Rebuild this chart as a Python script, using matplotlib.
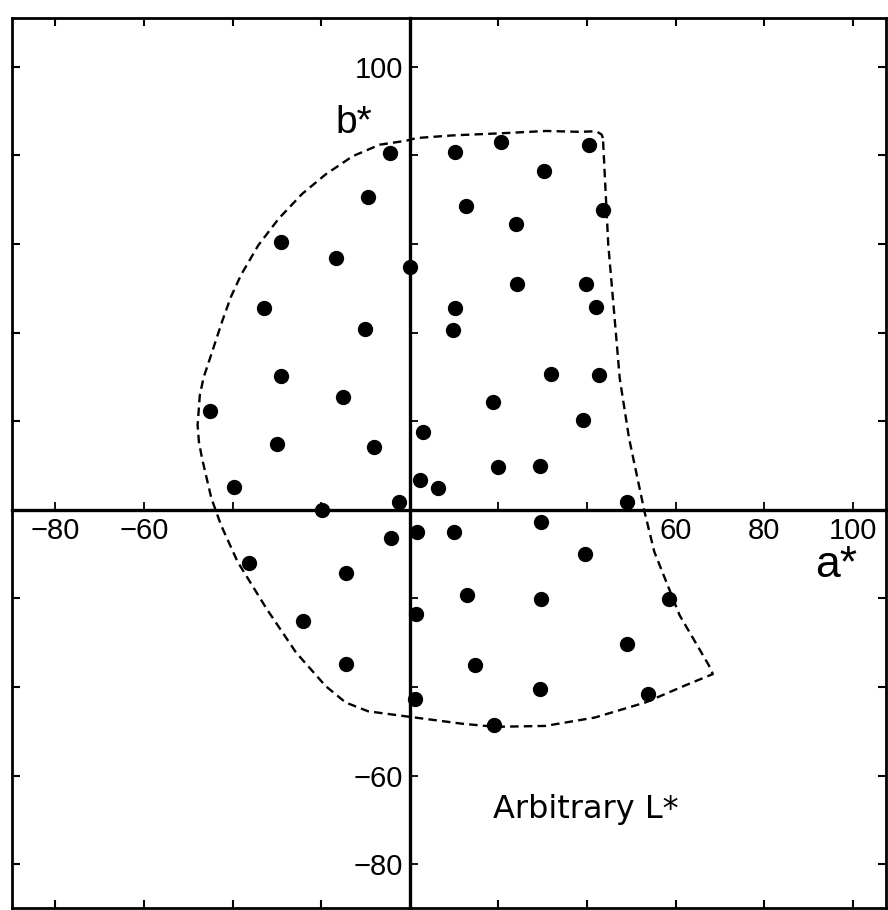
import matplotlib
matplotlib.use('Agg')
import matplotlib.pyplot as plt

# sample colours (a*, b*)
a_star = [-4.4, -9.5, -29.1, -16.7, 0.0, -32.8, -10.0, -29.1, -15.0, -45.0,
          -29.9, -8.0, -39.6, -2.4, -19.8,
          10.1, 20.5, 40.4, 30.2, 12.8, 43.6, 24.0, 24.3, 39.8, 42.0,
          10.1, 9.7, 31.9, 42.7, 18.7, 39.0, 3.0, 19.8, 29.4, 2.4, 6.4, 49.0,
          1.6, 10.0, -4.3, -36.4, -14.4, 12.9, 1.4, -24.0, -14.4, 1.1,
          29.6, 39.6, 29.6, 58.6, 49.1, 14.8, 29.4, 53.7, 19.0]
b_star = [80.5, 70.6, 60.5, 56.8, 54.7, 45.6, 40.7, 30.3, 25.4, 22.2,
          14.9, 14.2, 5.2, 1.8, 0.0,
          80.8, 82.9, 82.3, 76.4, 68.6, 67.6, 64.4, 50.9, 50.9, 45.7,
          45.6, 40.6, 30.6, 30.5, 24.4, 20.2, 17.5, 9.7, 9.9, 6.7, 4.8, 1.8,
          -5.0, -5.1, -6.4, -12.1, -14.2, -19.2, -23.6, -25.1, -34.9, -42.7,
          -2.7, -10.1, -20.1, -20.2, -30.3, -35.1, -40.5, -41.5, -48.6]

# dashed gamut boundary
edge_a = [43.6, 43.3, 42.3, 40.9, 38.4, 30.8, 21.1, 9.7, 1.5, -0.8, -6.8,
          -12.9, -19.0, -24.3, -29.6, -34.2, -38.1, -40.4, -42.3, -45.1,
          -46.5, -47.4, -47.9, -47.6, -46.9, -44.8, -42.6, -38.9, -32.3,
          -25.7, -19.0, -14.5, -9.4, -0.4, 11.8, 19.3, 30.6, 41.8, 53.2,
          62.3, 68.4, 67.5, 60.9, 55.2, 53.0, 49.5, 47.4, 46.1, 44.8, 43.6]
edge_b = [83.9, 84.7, 85.3, 85.4, 85.3, 85.5, 85.0, 84.5, 83.9, 83.3, 82.4,
          79.8, 75.7, 71.3, 65.7, 59.7, 53.0, 48.0, 42.7, 34.2,
          30.0, 25.9, 19.1, 15.3, 11.6, 2.6, -3.5, -11.7, -22.4,
          -32.2, -39.8, -43.5, -45.5, -46.7, -48.3, -49.0, -48.8, -46.9, -43.5,
          -39.6, -37.1, -35.1, -23.8, -9.5, -0.5, 16.1, 29.6, 44.8, 59.9, 83.9]

tick_vals = [-80, -60, -40, -20, 20, 40, 60, 80, 100]
x_labels = ['\u221280', '\u221260', '', '', '', '', '60', '80', '100']
y_labels = ['\u221280', '\u221260', '', '', '', '', '', '', '100']

plt.rcParams['font.family'] = ['Liberation Sans', 'DejaVu Sans']

fig = plt.figure(figsize=(8.88, 9.10), dpi=100)
rect = [12 / 888, 2 / 910, 874 / 888, 890 / 910]
xlim = (-89.8, 107.5)
ylim = (-89.9, 111.0)

# outer frame with inward ticks
box = fig.add_axes(rect)
box.set_xlim(xlim)
box.set_ylim(ylim)
box.set_xticks(tick_vals)
box.set_yticks(tick_vals)
box.tick_params(direction='in', length=6, width=1.5, top=True, right=True,
                labelbottom=False, labelleft=False)
for s in box.spines.values():
    s.set_linewidth(2)

# axes through the origin
ax = fig.add_axes(rect)
ax.patch.set_visible(False)
ax.set_xlim(xlim)
ax.set_ylim(ylim)
ax.spines['left'].set_position(('data', 0))
ax.spines['bottom'].set_position(('data', 0))
ax.spines['top'].set_visible(False)
ax.spines['right'].set_visible(False)
ax.spines['left'].set_linewidth(2.4)
ax.spines['bottom'].set_linewidth(2.4)
ax.set_xticks(tick_vals, labels=x_labels)
ax.set_yticks(tick_vals, labels=y_labels)
ax.tick_params(direction='in', length=6, width=1.3, labelsize=21, pad=5)

ax.plot(edge_a, edge_b, color='black', lw=1.7, ls=(0, (3.6, 2.2)))
ax.plot(a_star, b_star, 'o', color='black', ms=10)

ax.text(-8.4, 85.1, 'b*', ha='right', va='baseline', fontsize=28)
ax.text(91.4, -15.1, 'a*', ha='left', va='baseline', fontsize=32)
ax.text(18.7, -69.5, 'Arbitrary L*', ha='left', va='baseline', fontsize=23,
        family='DejaVu Sans')

fig.savefig('out.png', dpi=100)
